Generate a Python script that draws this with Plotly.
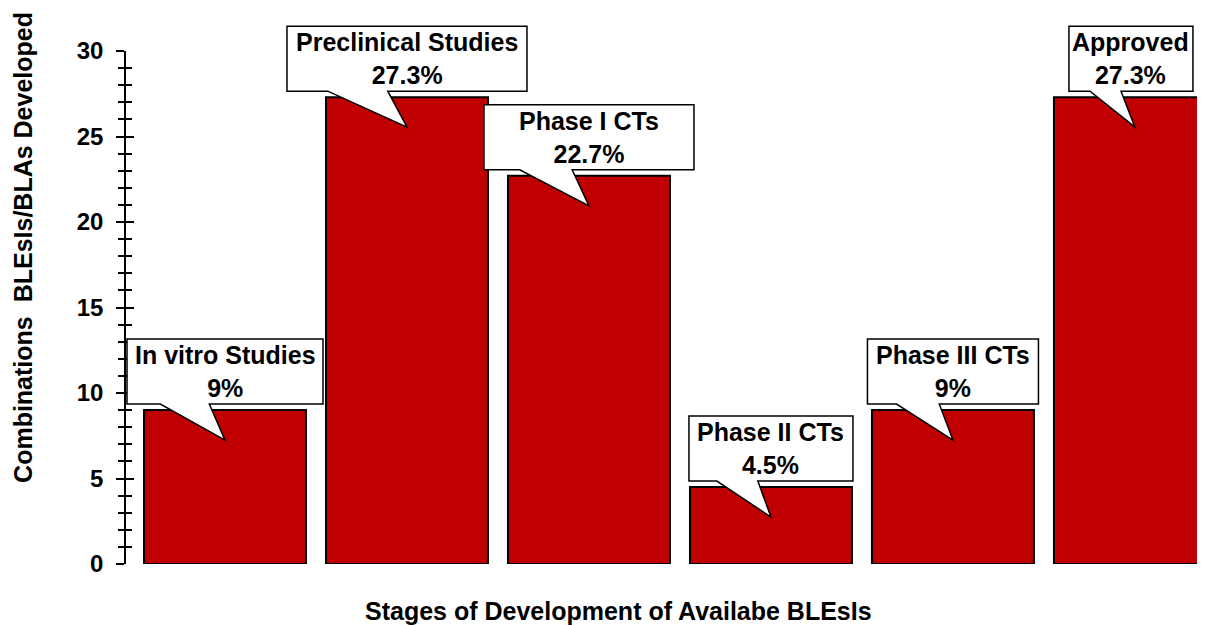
import plotly.graph_objects as go

# ---- data ----
stages = ["In vitro Studies", "Preclinical Studies", "Phase I CTs",
          "Phase II CTs", "Phase III CTs", "Approved"]
counts = [9, 27.3, 22.7, 4.5, 9, 27.3]
shares = ["9%", "27.3%", "22.7%", "4.5%", "9%", "27.3%"]
y_ticks = [0, 5, 10, 15, 20, 25, 30]

x_title = "Stages of Development of Availabe BLEsIs"
y_title = "Combinations\u00a0\u00a0BLEsIs/BLAs Developed"

# ---- style ----
FONT = "Arial, Liberation Sans, sans-serif"
BAR_RED = "#C00000"
FS_TEXT = 25
FS_TICK = 24
X_RANGE = [-0.544, 5.385]
Y_RANGE = [0, 30]
callout_w = [196, 240, 210, 164, 171, 124]   # callout box widths (px)
callout_dx = [0, 0, 0, 0, 0, -4]             # horizontal box shift (px)
BOX_GAP, BOX_H, TIP = 6, 65, -30             # px relative to bar top
PAGE_OFFSET = 8                              # default body margin of the page

fig = go.Figure()
fig.add_trace(go.Bar(
    x=stages, y=counts,
    marker=dict(color=BAR_RED, line=dict(color="black", width=2)),
    hoverinfo="skip", showlegend=False,
))
# invisible companion trace so the mirrored tick axis is drawn
fig.add_trace(go.Scatter(x=stages, y=counts, yaxis="y2", mode="markers",
                         marker=dict(opacity=0), hoverinfo="skip",
                         showlegend=False))


def to_paper_x(idx):
    return (idx - X_RANGE[0]) / (X_RANGE[1] - X_RANGE[0])


def to_paper_y(val):
    return (val - Y_RANGE[0]) / (Y_RANGE[1] - Y_RANGE[0])


shapes, annotations = [], []
for i, (s, v, p) in enumerate(zip(stages, counts, shares)):
    w = callout_w[i]
    dx = callout_dx[i]
    l, r = -w / 2 + dx, w / 2 + dx
    b, t = BOX_GAP, BOX_GAP + BOX_H
    bl = l + 0.17 * w
    br = l + 0.42 * w
    path = (f"M {l},{t} L {r},{t} L {r},{b} L {br},{b} "
            f"L 0,{TIP} L {bl},{b} L {l},{b} Z")
    # paper-referenced (pixel-sized) so the callouts are not clipped
    shapes.append(dict(
        type="path", xref="paper", yref="paper",
        xsizemode="pixel", ysizemode="pixel",
        xanchor=to_paper_x(i), yanchor=to_paper_y(v), path=path,
        fillcolor="white", line=dict(color="black", width=1.5), layer="above",
    ))
    annotations.append(dict(
        x=s, y=v, xref="x", yref="y", xshift=dx, yshift=BOX_GAP + BOX_H / 2,
        text=f"{s}<br>{p}", showarrow=False, xanchor="center", yanchor="middle",
        font=dict(family=FONT, size=FS_TEXT, color="black", weight="bold"),
    ))

annotations.append(dict(
    x=0.456, y=-0.092, xref="paper", yref="paper", text=x_title,
    showarrow=False, xanchor="center", yanchor="middle",
    font=dict(family=FONT, size=FS_TEXT, color="black", weight="bold"),
))
annotations.append(dict(
    x=-0.0955, y=0.618, xref="paper", yref="paper", text=y_title,
    textangle=-90, showarrow=False, xanchor="center", yanchor="middle",
    font=dict(family=FONT, size=FS_TEXT, color="black", weight="bold"),
))

axis_common = dict(range=Y_RANGE, tickvals=y_ticks, showgrid=False,
                   zeroline=False, tickcolor="black", tickwidth=1.5, ticklen=8)

fig.update_layout(
    width=1205 - PAGE_OFFSET, height=625 - PAGE_OFFSET,
    margin=dict(l=126 - PAGE_OFFSET, r=0, t=51 - PAGE_OFFSET, b=61),
    paper_bgcolor="white", plot_bgcolor="white",
    bargap=0.11,
    font=dict(family=FONT, color="black"),
    xaxis=dict(range=X_RANGE, showticklabels=False, ticks="",
               showline=False, showgrid=False, zeroline=False),
    yaxis=dict(**axis_common, ticks="outside", showline=True,
               linecolor="black", linewidth=1.5,
               tickfont=dict(family=FONT, size=FS_TICK, color="black",
                             weight="bold"),
               ticklabelstandoff=8,
               minor=dict(dtick=1, ticks="outside", ticklen=6,
                          tickcolor="black", tickwidth=1.5)),
    yaxis2=dict(**axis_common, overlaying="y", side="left", anchor="x",
                ticks="inside", showticklabels=False, showline=False,
                minor=dict(dtick=1, ticks="inside", ticklen=6,
                           tickcolor="black", tickwidth=1.5)),
    shapes=shapes,
    annotations=annotations,
)

fig.write_html("out.html")
